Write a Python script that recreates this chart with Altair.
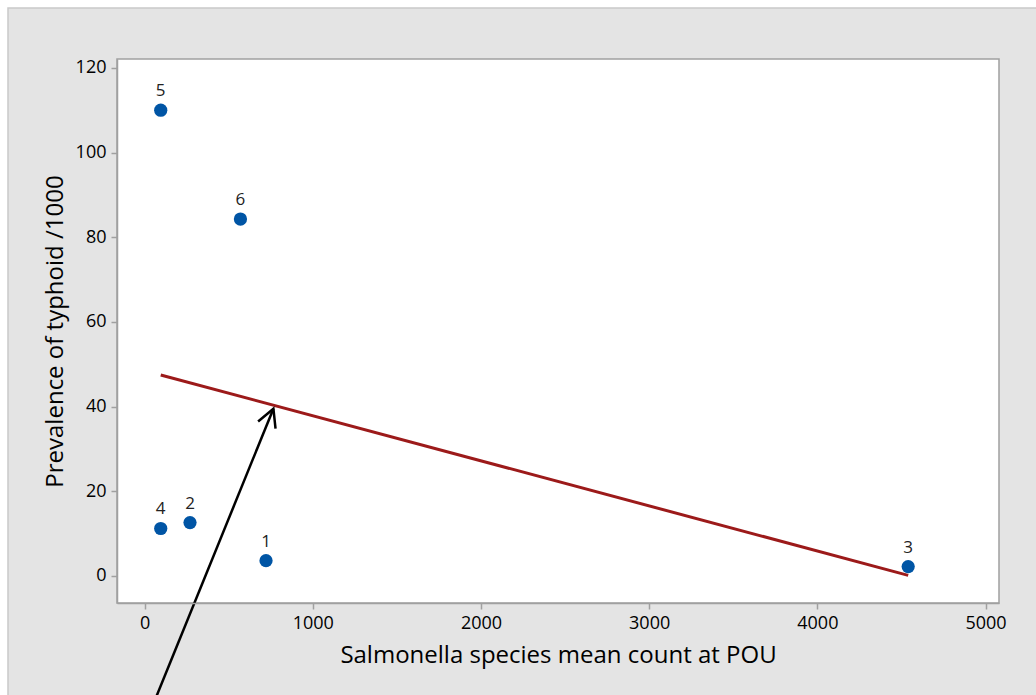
import altair as alt
import pandas as pd

# Sampling sites: Salmonella mean count at point of use vs typhoid prevalence
site_ids = ["1", "2", "3", "4", "5", "6"]
salmonella_count = [722, 270, 4540, 96, 96, 570]
typhoid_prevalence = [3.6, 12.6, 2.2, 11.2, 110.0, 84.3]

# Annotation arrow pointing at the fitted line (tail, head)
arrow_x = [72, 766]
arrow_y = [-28.3, 39.5]

x_ticks = [0, 1000, 2000, 3000, 4000, 5000]
y_ticks = [0, 20, 40, 60, 80, 100, 120]

W, H = 882, 544
FONT = "Open Sans"

points = pd.DataFrame({"site": site_ids, "x": salmonella_count, "y": typhoid_prevalence})
arrow = pd.DataFrame({"x": arrow_x, "y": arrow_y, "order": [0, 1]})
head = arrow.iloc[[1]]
one = pd.DataFrame({"a": [0]})

x_scale = alt.Scale(domain=[-164, 5080], nice=False, zero=False)
y_scale = alt.Scale(domain=[-6.4, 122.1], nice=False, zero=False)

x_enc = alt.X(
    "x:Q", scale=x_scale,
    axis=alt.Axis(values=x_ticks, format="d", title="Salmonella species mean count at POU",
                  grid=False, zindex=1, titlePadding=11),
)
y_enc = alt.Y(
    "y:Q", scale=y_scale,
    axis=alt.Axis(values=y_ticks, format="d", title="Prevalence of typhoid /1000",
                  grid=False, zindex=1, titlePadding=8),
)

# Gray panel behind everything
panel = alt.Chart(one).mark_rect(
    fill="#e4e4e4", stroke="#c9c9c9", strokeWidth=1.5, clip=False
).encode(
    x=alt.value(-109), x2=alt.value(W + 60),
    y=alt.value(-51), y2=alt.value(H + 120),
)

# White plotting area with its frame
plot_bg = alt.Chart(one).mark_rect(
    fill="white", stroke="#a0a0a0", strokeWidth=1.5
).encode(
    x=alt.value(0), x2=alt.value(W), y=alt.value(0), y2=alt.value(H),
)

dots = alt.Chart(points).mark_circle(size=175, color="#0055a5", opacity=1).encode(
    x=x_enc, y=y_enc
)

labels = alt.Chart(points).mark_text(
    font=FONT, fontSize=17, color="#222222", dy=-14, baseline="alphabetic"
).encode(x="x:Q", y="y:Q", text="site:N")

fit = alt.Chart(points).transform_regression("x", "y").mark_line(
    color="#9c1a1a", strokeWidth=3
).encode(x="x:Q", y="y:Q")

shaft = alt.Chart(arrow).mark_line(
    color="black", strokeWidth=2.5, clip=False
).encode(x="x:Q", y="y:Q", order="order:Q")

tip = alt.Chart(head).mark_point(
    shape="M-0.47,0.88L0,0L0.47,0.88", size=1600, angle=22,
    filled=False, stroke="black", strokeWidth=2.5, opacity=1, clip=False
).encode(x="x:Q", y="y:Q")

chart = alt.layer(panel, plot_bg, dots, fit, labels, shaft, tip).properties(
    width=W, height=H,
    autosize=alt.AutoSizeParams(type="none"),
    padding={"left": 117, "top": 59, "right": 37, "bottom": 92},
    background="white",
).configure_view(stroke=None).configure_axis(
    labelFont=FONT, labelFontSize=18, labelColor="#000000", labelPadding=5,
    titleFont=FONT, titleFontSize=24, titleFontWeight="normal", titleColor="#000000",
    domainColor="#a0a0a0", domainWidth=1.5, tickColor="#a0a0a0", tickSize=6, tickWidth=1.5,
)

chart.save("out.html", embed_options={"renderer": "svg", "actions": False})
